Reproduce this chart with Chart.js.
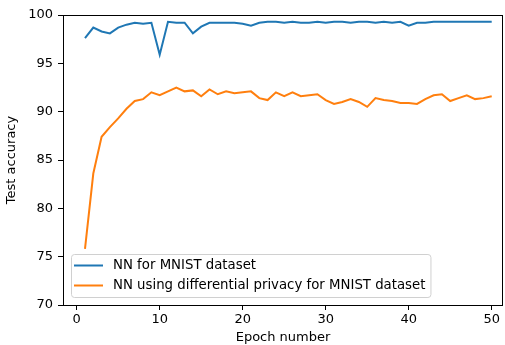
<!DOCTYPE html>
<html><head><meta charset="utf-8">
<script src="https://cdn.jsdelivr.net/npm/chart.js@4/dist/chart.umd.min.js"></script>
<style>html,body{margin:0;padding:0;background:#fff}#wrap{width:505px;height:345px}</style>
</head><body><div id="wrap"><canvas id="c" width="505" height="345"></canvas></div>
<script>
const epochs = Array.from({length:50},(_,i)=>i+1);
const mnistAcc = [97.6,98.7,98.3,98.1,98.7,99.0,99.2,99.1,99.2,95.9,99.3,99.2,99.2,98.1,98.8,99.2,99.2,99.2,99.2,99.1,98.9,99.2,99.3,99.3,99.2,99.3,99.2,99.2,99.3,99.2,99.3,99.3,99.2,99.3,99.3,99.2,99.3,99.2,99.3,98.9,99.2,99.2,99.3,99.3,99.3,99.3,99.3,99.3,99.3,99.3];
const dpAcc = [75.8,83.6,87.4,88.4,89.3,90.3,91.1,91.3,92.0,91.7,92.1,92.5,92.1,92.2,91.6,92.3,91.8,92.1,91.9,92.0,92.1,91.4,91.2,92.0,91.6,92.0,91.6,91.7,91.8,91.2,90.8,91.0,91.3,91.0,90.5,91.4,91.2,91.1,90.9,90.9,90.8,91.3,91.7,91.8,91.1,91.4,91.7,91.3,91.4,91.6];
const xTicks = [0,10,20,30,40,50];
const yTicks = [70,75,80,85,90,95,100];
const seriesLabels = ['NN for MNIST dataset','NN using differential privacy for MNIST dataset'];
const FONT = "'DejaVu Sans'";

const frame = {
  id:'frame',
  afterDatasetsDraw(chart){
    const {ctx, chartArea:a} = chart;
    ctx.save();
    ctx.strokeStyle='#000'; ctx.lineWidth=1;
    ctx.strokeRect(Math.round(a.left)+0.5, Math.round(a.top)+0.5, Math.round(a.right-a.left)-1, Math.round(a.bottom-a.top));
    // legend
    const fs=13.3;
    ctx.font = fs+"px "+FONT;
    const items = chart.data.datasets;
    let maxW=0; items.forEach(d=>{maxW=Math.max(maxW,ctx.measureText(d.label).width);});
    const rowH=20;
    const x0 = Math.round(a.left)+8, w = 42+maxW+5;
    const h = 43, y0 = Math.round(a.bottom)-8-h;
    ctx.fillStyle='rgba(255,255,255,0.8)';
    ctx.strokeStyle='#d0d0d0';
    ctx.beginPath();
    if(ctx.roundRect){ctx.roundRect(x0+0.5,y0+0.5,w,h,3);} else ctx.rect(x0+0.5,y0+0.5,w,h);
    ctx.fill(); ctx.stroke();
    items.forEach((d,i)=>{
      const cy = y0+11.5+rowH*i;
      ctx.strokeStyle=d.borderColor; ctx.lineWidth=2;
      ctx.beginPath(); ctx.moveTo(x0+3,cy); ctx.lineTo(x0+32,cy); ctx.stroke();
      ctx.fillStyle='#000'; ctx.textBaseline='middle'; ctx.textAlign='left';
      ctx.fillText(d.label, x0+42, cy);
    });
    ctx.restore();
  }
};

new Chart(document.getElementById('c'),{
  type:'line',
  data:{datasets:[
    {label:seriesLabels[0], data:epochs.map((e,i)=>({x:e,y:mnistAcc[i]})), borderColor:'#1f77b4', backgroundColor:'#1f77b4', borderWidth:2, pointRadius:0, tension:0},
    {label:seriesLabels[1], data:epochs.map((e,i)=>({x:e,y:dpAcc[i]})), borderColor:'#ff7f0e', backgroundColor:'#ff7f0e', borderWidth:2, pointRadius:0, tension:0}
  ]},
  options:{
    responsive:false, animation:false,
    layout:{padding:{top:15,right:2,left:0,bottom:0}},
    plugins:{legend:{display:false},tooltip:{enabled:false}},
    scales:{
      x:{type:'linear',min:-1.65,max:51.36,
        afterBuildTicks(s){s.ticks=xTicks.map(v=>({value:v}));},
        afterFit(s){s.height=40;},
        grid:{drawOnChartArea:false,drawTicks:true,tickLength:5,color:'#000'},
        border:{display:false},
        ticks:{color:'#000',font:{family:FONT,size:13},padding:2,maxRotation:0},
        title:{display:true,text:'Epoch number',color:'#000',font:{family:FONT,size:13},padding:{top:2,bottom:0}}
      },
      y:{min:70,max:100,
        afterBuildTicks(s){s.ticks=yTicks.map(v=>({value:v}));},
        afterFit(s){s.width=63;},
        grid:{drawOnChartArea:false,drawTicks:true,tickLength:5,color:'#000'},
        border:{display:false},
        ticks:{color:'#000',font:{family:FONT,size:13},padding:5},
        title:{display:true,text:'Test accuracy',color:'#000',font:{family:FONT,size:13},padding:{top:4,bottom:0}}
      }
    }
  },
  plugins:[frame]
});
</script></body></html>
